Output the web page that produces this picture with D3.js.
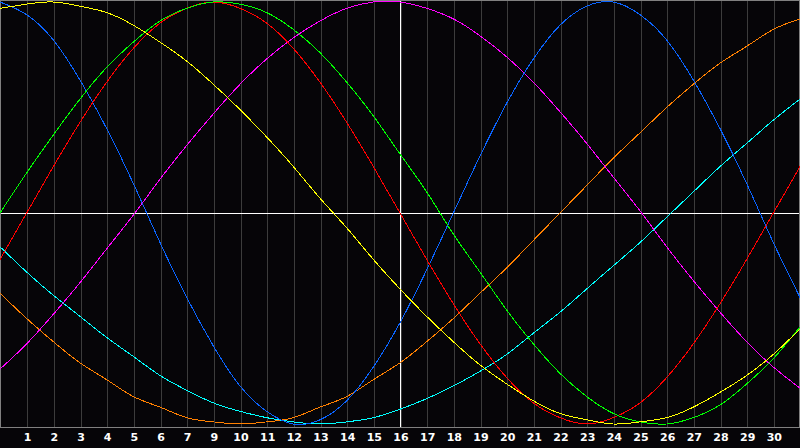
<!DOCTYPE html>
<html>
<head>
<meta charset="utf-8">
<script src="https://cdnjs.cloudflare.com/ajax/libs/d3/7.8.5/d3.min.js"></script>
<style>
  html, body { margin: 0; padding: 0; background: #060508; }
  svg { display: block; }
</style>
</head>
<body>
<div id="chart"></div>
<script>
// day index 0..30, values in percent (-100..100)
let days = d3.range(0, 31);
let tickLabels = ["1", "2", "3", "4", "5", "6", "7", "9", "10", "11", "12", "13", "14", "15", "16",
  "17", "18", "19", "20", "21", "22", "23", "24", "25", "26", "27", "28", "29", "30"];

let physical = [100, 94, 82, 63, 40, 14, -14, -40, -63, -82, -94, -100, -98, -89, -73, -52,
  -27, 0, 27, 52, 73, 89, 98, 100, 94, 82, 63, 40, 14, -14, -40];
let emotional = [-22, 0, 22, 43, 62, 78, 90, 97, 100, 97, 90, 78, 62, 43, 22, 0,
  -22, -43, -62, -78, -90, -97, -100, -97, -90, -78, -62, -43, -22, 0, 22];
let intellectual = [0, 19, 37, 54, 69, 81, 91, 97, 100, 99, 95, 87, 76, 62, 46, 28,
  10, -10, -28, -46, -62, -76, -87, -95, -99, -100, -97, -91, -81, -69, -54];
let aesthetic = [97, 99, 100, 98, 95, 89, 81, 72, 61, 49, 36, 22, 7, -7, -22, -36,
  -49, -61, -72, -81, -89, -95, -98, -100, -99, -97, -92, -85, -77, -67, -55];
let intuitive = [-74, -62, -48, -33, -17, -1, 16, 32, 47, 61, 73, 83, 91, 97, 100, 100,
  97, 92, 84, 74, 62, 48, 33, 17, 1, -16, -32, -47, -61, -73, -83];
let awareness = [-38, -50, -61, -71, -79, -87, -92, -97, -99, -100, -99, -97, -92, -87, -79, -71,
  -61, -50, -38, -26, -13, 0, 13, 26, 38, 50, 61, 71, 79, 87, 92];
let spiritual = [-16, -28, -39, -49, -59, -68, -77, -84, -90, -94, -97, -99, -100, -99, -97, -93,
  -88, -82, -75, -67, -57, -47, -36, -25, -14, -2, 10, 22, 33, 44, 54];

let today = 15;

let series = [
  { name: "awareness", values: awareness, color: "#ff8000" },
  { name: "spiritual", values: spiritual, color: "#00ffff" },
  { name: "intuitive", values: intuitive, color: "#ff00ff" },
  { name: "physical", values: physical, color: "#0a64ff" },
  { name: "emotional", values: emotional, color: "#ff0000" },
  { name: "intellectual", values: intellectual, color: "#00ff00" },
  { name: "aesthetic", values: aesthetic, color: "#ffff00" }
];

let width = 800;
let height = 448;
let plotBottom = 427;

let svg = d3.select("#chart")
  .append("svg")
  .attr("width", width)
  .attr("height", height);

svg.append("rect")
  .attr("width", width)
  .attr("height", height)
  .attr("fill", "#060508");

let x = d3.scaleLinear()
  .domain([0, 30])
  .range([0, 800]);

let y = d3.scaleLinear()
  .domain([-100, 100])
  .range([424, 2]);

// grid + day labels
let axis = svg.append("g")
  .attr("transform", `translate(0.5, ${plotBottom})`)
  .call(d3.axisBottom(x)
    .tickValues(d3.range(1, 30))
    .tickSize(-plotBottom)
    .tickPadding(6)
    .tickFormat((d, i) => tickLabels[i]));

axis.select(".domain").remove();
axis.selectAll(".tick line")
  .attr("stroke", "#3c3c3c")
  .attr("shape-rendering", "crispEdges");
axis.selectAll(".tick text")
  .attr("fill", "#ffffff")
  .attr("font-family", "'DejaVu Sans', Verdana, sans-serif")
  .attr("font-weight", "bold")
  .attr("font-size", 11);

// frame
svg.append("rect")
  .attr("x", 0.5)
  .attr("y", 0.5)
  .attr("width", width - 1)
  .attr("height", plotBottom)
  .attr("fill", "none")
  .attr("stroke", "#808080")
  .attr("shape-rendering", "crispEdges");

// zero line and today line
svg.append("line")
  .attr("x1", 1)
  .attr("x2", width - 1)
  .attr("y1", Math.round(y(0)) + 0.5)
  .attr("y2", Math.round(y(0)) + 0.5)
  .attr("stroke", "#ffffff")
  .attr("shape-rendering", "crispEdges");

svg.append("line")
  .attr("x1", x(today) + 0.5)
  .attr("x2", x(today) + 0.5)
  .attr("y1", 1)
  .attr("y2", plotBottom)
  .attr("stroke", "#ffffff")
  .attr("shape-rendering", "crispEdges");

let line = d3.line()
  .x((d, i) => x(days[i]))
  .y(d => y(d))
  .curve(d3.curveNatural);

svg.append("g")
  .selectAll("path")
  .data(series)
  .enter()
  .append("path")
  .attr("d", d => line(d.values))
  .attr("fill", "none")
  .attr("stroke", d => d.color)
  .attr("stroke-width", 1)
  .attr("shape-rendering", "crispEdges");
</script>
</body>
</html>
